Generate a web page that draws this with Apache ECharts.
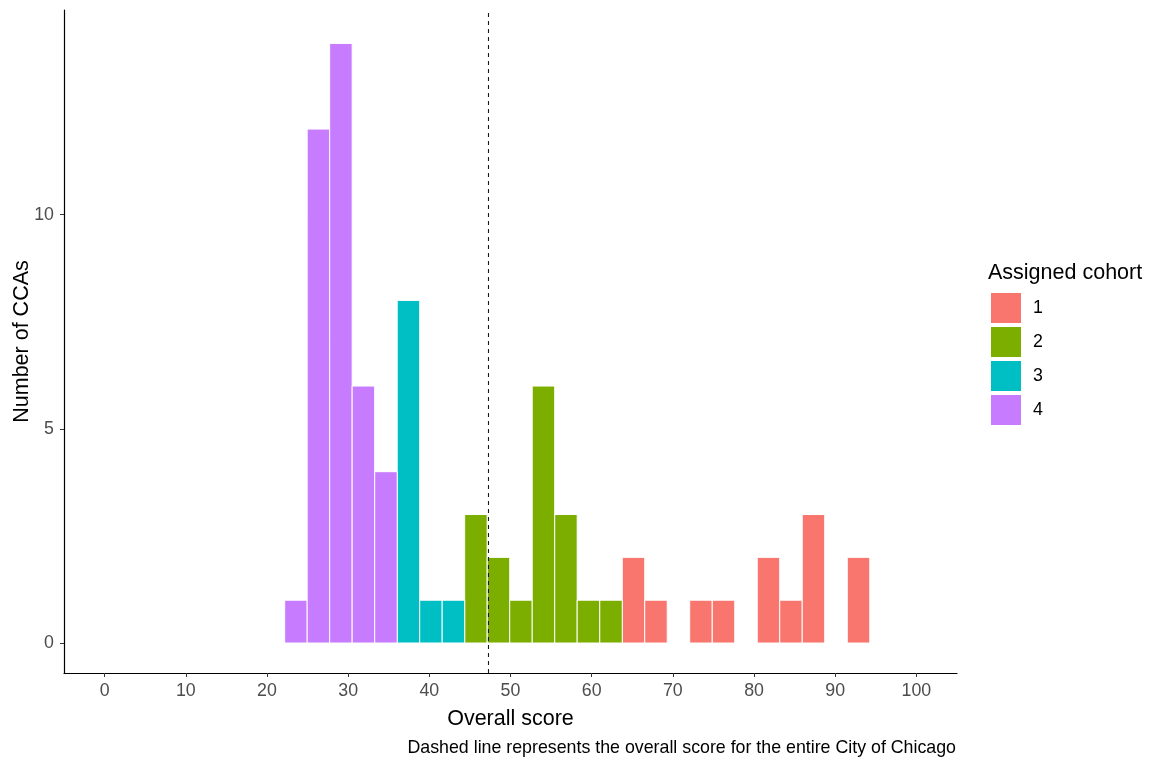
<!DOCTYPE html>
<html>
<head>
<meta charset="utf-8">
<script src="https://cdn.jsdelivr.net/npm/echarts@6/dist/echarts.min.js"></script>
<style>
html,body{margin:0;padding:0;background:#fff;}
#chart{width:1151px;height:763px;}
</style>
</head>
<body>
<div id="chart"></div>
<script>
// Histogram bins (centers of bins)
var binCenters = [23.57, 26.34, 29.11, 31.88, 34.66, 37.43, 40.20, 42.97, 45.74, 48.52, 51.29, 54.06, 56.83, 59.60, 62.38, 65.15, 67.92, 73.46, 76.24, 81.78, 84.55, 87.32, 92.87];
var binCounts  = [1, 12, 14, 6, 4, 8, 1, 1, 3, 2, 1, 6, 3, 1, 1, 2, 1, 1, 1, 2, 1, 3, 2];
var binCohort  = ['4','4','4','4','4','3','3','3','2','2','2','2','2','2','2','1','1','1','1','1','1','1','1'];
var binWidth = 2.772;
var cohorts = ['1', '2', '3', '4'];
var cohortColors = ['#F8766D', '#7CAE00', '#00BFC4', '#C77CFF'];
var xTicks = [0, 10, 20, 30, 40, 50, 60, 70, 80, 90, 100];
var yTicks = [0, 5, 10];
var cityScore = 47.3;

var FONT = 'Liberation Sans, Arial, sans-serif';
var chart = echarts.init(document.getElementById('chart'), null, {renderer: 'canvas'});

function renderBar(params, api) {
  var c = api.value(0), n = api.value(1);
  var p0 = api.coord([c - binWidth / 2, n]);
  var p1 = api.coord([c + binWidth / 2, 0]);
  return {
    type: 'rect',
    shape: {x: p0[0], y: p0[1], width: p1[0] - p0[0], height: p1[1] - p0[1]},
    style: {fill: api.visual('color'), stroke: '#ffffff', lineWidth: 1}
  };
}

var series = cohorts.map(function (co, k) {
  var data = [];
  for (var i = 0; i < binCenters.length; i++) {
    if (binCohort[i] === co) data.push([binCenters[i], binCounts[i]]);
  }
  return {
    name: co,
    type: 'custom',
    renderItem: renderBar,
    encode: {x: 0, y: 1},
    itemStyle: {color: cohortColors[k]},
    data: data,
    z: 2
  };
});

series.push({
  name: 'vline',
  type: 'line',
  data: [],
  silent: true,
  z: 5,
  markLine: {
    silent: true,
    symbol: ['none', 'none'],
    label: {show: false},
    lineStyle: {color: '#1a1a1a', type: [4, 4], width: 1.1},
    data: [{xAxis: cityScore}]
  }
});

var tickFont = {color: '#4D4D4D', fontSize: 17.8, fontFamily: FONT};

chart.setOption({
  animation: false,
  backgroundColor: '#ffffff',
  grid: {left: 64, right: 194, top: 10, bottom: 90, containLabel: false, outerBoundsMode: 'none'},
  xAxis: {
    type: 'value',
    min: -5, max: 105,
    name: 'Overall score',
    nameLocation: 'middle',
    nameGap: 35,
    nameMoveOverlap: false,
    nameTextStyle: {color: '#000', fontSize: 21.5, fontFamily: FONT, verticalAlign: 'top'},
    axisLine: {show: true, onZero: false, lineStyle: {color: '#000', width: 1.2}},
    axisTick: {show: true, length: 4, lineStyle: {color: '#333'}, customValues: xTicks},
    axisLabel: Object.assign({customValues: xTicks, margin: 9}, tickFont),
    splitLine: {show: false}
  },
  yAxis: {
    type: 'value',
    min: -0.7, max: 14.78,
    name: 'Number of CCAs',
    nameLocation: 'middle',
    nameGap: 31,
    nameMoveOverlap: false,
    nameRotate: 90,
    nameTextStyle: {color: '#000', fontSize: 21.5, fontFamily: FONT},
    axisLine: {show: true, onZero: false, lineStyle: {color: '#000', width: 1.2}},
    axisTick: {show: true, length: 4, lineStyle: {color: '#333'}, customValues: yTicks},
    axisLabel: Object.assign({customValues: yTicks, margin: 10}, tickFont),
    splitLine: {show: false}
  },
  legend: {
    data: cohorts.map(function (c) { return {name: c, icon: 'rect'}; }),
    orient: 'vertical',
    left: 991,
    top: 293,
    padding: 0,
    itemWidth: 30,
    itemHeight: 30,
    itemGap: 4,
    textStyle: {color: '#000', fontSize: 17.8, fontFamily: FONT, padding: [0, 0, 0, 7]},
    selectedMode: false
  },
  graphic: [
    {type: 'text', left: 988, top: 262, style: {text: 'Assigned cohort', fill: '#000', fontSize: 21.5, fontFamily: FONT}},
    {type: 'text', right: 1151 - 956, top: 739, style: {text: 'Dashed line represents the overall score for the entire City of Chicago', fill: '#000', fontSize: 17.8, fontFamily: FONT, align: 'right'}}
  ],
  series: series
});
</script>
</body>
</html>
